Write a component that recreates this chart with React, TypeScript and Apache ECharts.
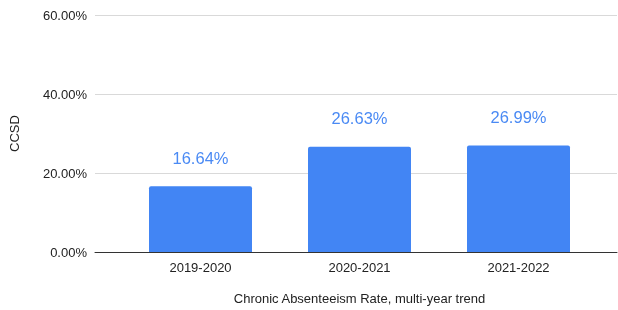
import React, { useEffect, useRef } from "react";
import * as echarts from "echarts";

const categories = ["2019-2020", "2020-2021", "2021-2022"];
const values = [0.1664, 0.2663, 0.2699];
const yTicks = { min: 0, max: 0.6, interval: 0.2 };
const yAxisName = "CCSD";
const xAxisName = "Chronic Absenteeism Rate, multi-year trend";

const FONT = "'Liberation Sans', Arial, sans-serif";
const pct = (v: number) => (v * 100).toFixed(2) + "%";

export default function App() {
  const ref = useRef<HTMLDivElement>(null);
  useEffect(() => {
    if (!ref.current) return;
    const chart = echarts.init(ref.current, undefined, { renderer: "svg" });
    chart.setOption({
      animation: false,
      textStyle: { fontFamily: FONT },
      grid: [
        { left: 94, right: 1, top: 15, bottom: 58 },
        { left: 121, right: 20, top: 15, bottom: 58 },
      ],
      xAxis: [
        {
          gridIndex: 0,
          type: "category",
          data: [""],
          axisLine: { show: true, lineStyle: { color: "#333333", width: 1 } },
          axisTick: { show: false },
          axisLabel: { show: false },
        },
        {
          gridIndex: 1,
          type: "category",
          data: categories,
          axisLine: { show: false },
          axisTick: { show: false },
          axisLabel: { color: "#222222", fontSize: 13, margin: 9, fontFamily: FONT },
          name: xAxisName,
          nameLocation: "middle",
          nameGap: 40,
          nameTextStyle: { color: "#222222", fontSize: 13, fontFamily: FONT, verticalAlign: "top" },
        },
      ],
      yAxis: [
        {
          gridIndex: 0,
          type: "value",
          min: yTicks.min,
          max: yTicks.max,
          interval: yTicks.interval,
          axisLine: { show: false },
          axisTick: { show: false },
          axisLabel: { color: "#222222", fontSize: 13, margin: 8, formatter: pct, fontFamily: FONT },
          splitLine: { lineStyle: { color: "#d9d9d9", width: 1 } },
          name: yAxisName,
          nameLocation: "middle",
          nameGap: 74,
          nameRotate: 90,
          nameTextStyle: { color: "#222222", fontSize: 13, fontFamily: FONT },
        },
        {
          gridIndex: 1,
          type: "value",
          min: yTicks.min,
          max: yTicks.max,
          interval: yTicks.interval,
          show: false,
          splitLine: { show: false },
        },
      ],
      series: [
        {
          type: "bar",
          xAxisIndex: 1,
          yAxisIndex: 1,
          data: values,
          barWidth: 103,
          itemStyle: { color: "#4285F4", borderRadius: [2, 2, 0, 0] },
          label: {
            show: true,
            position: "top",
            distance: 20,
            color: "#4a8af4",
            fontSize: 16.5,
            fontFamily: FONT,
            formatter: (p: any) => pct(p.value),
          },
        },
      ],
    });
    return () => chart.dispose();
  }, []);
  return (
    <div
      ref={ref}
      style={{ position: "fixed", left: 0, top: 0, width: 618, height: 310 }}
    />
  );
}
